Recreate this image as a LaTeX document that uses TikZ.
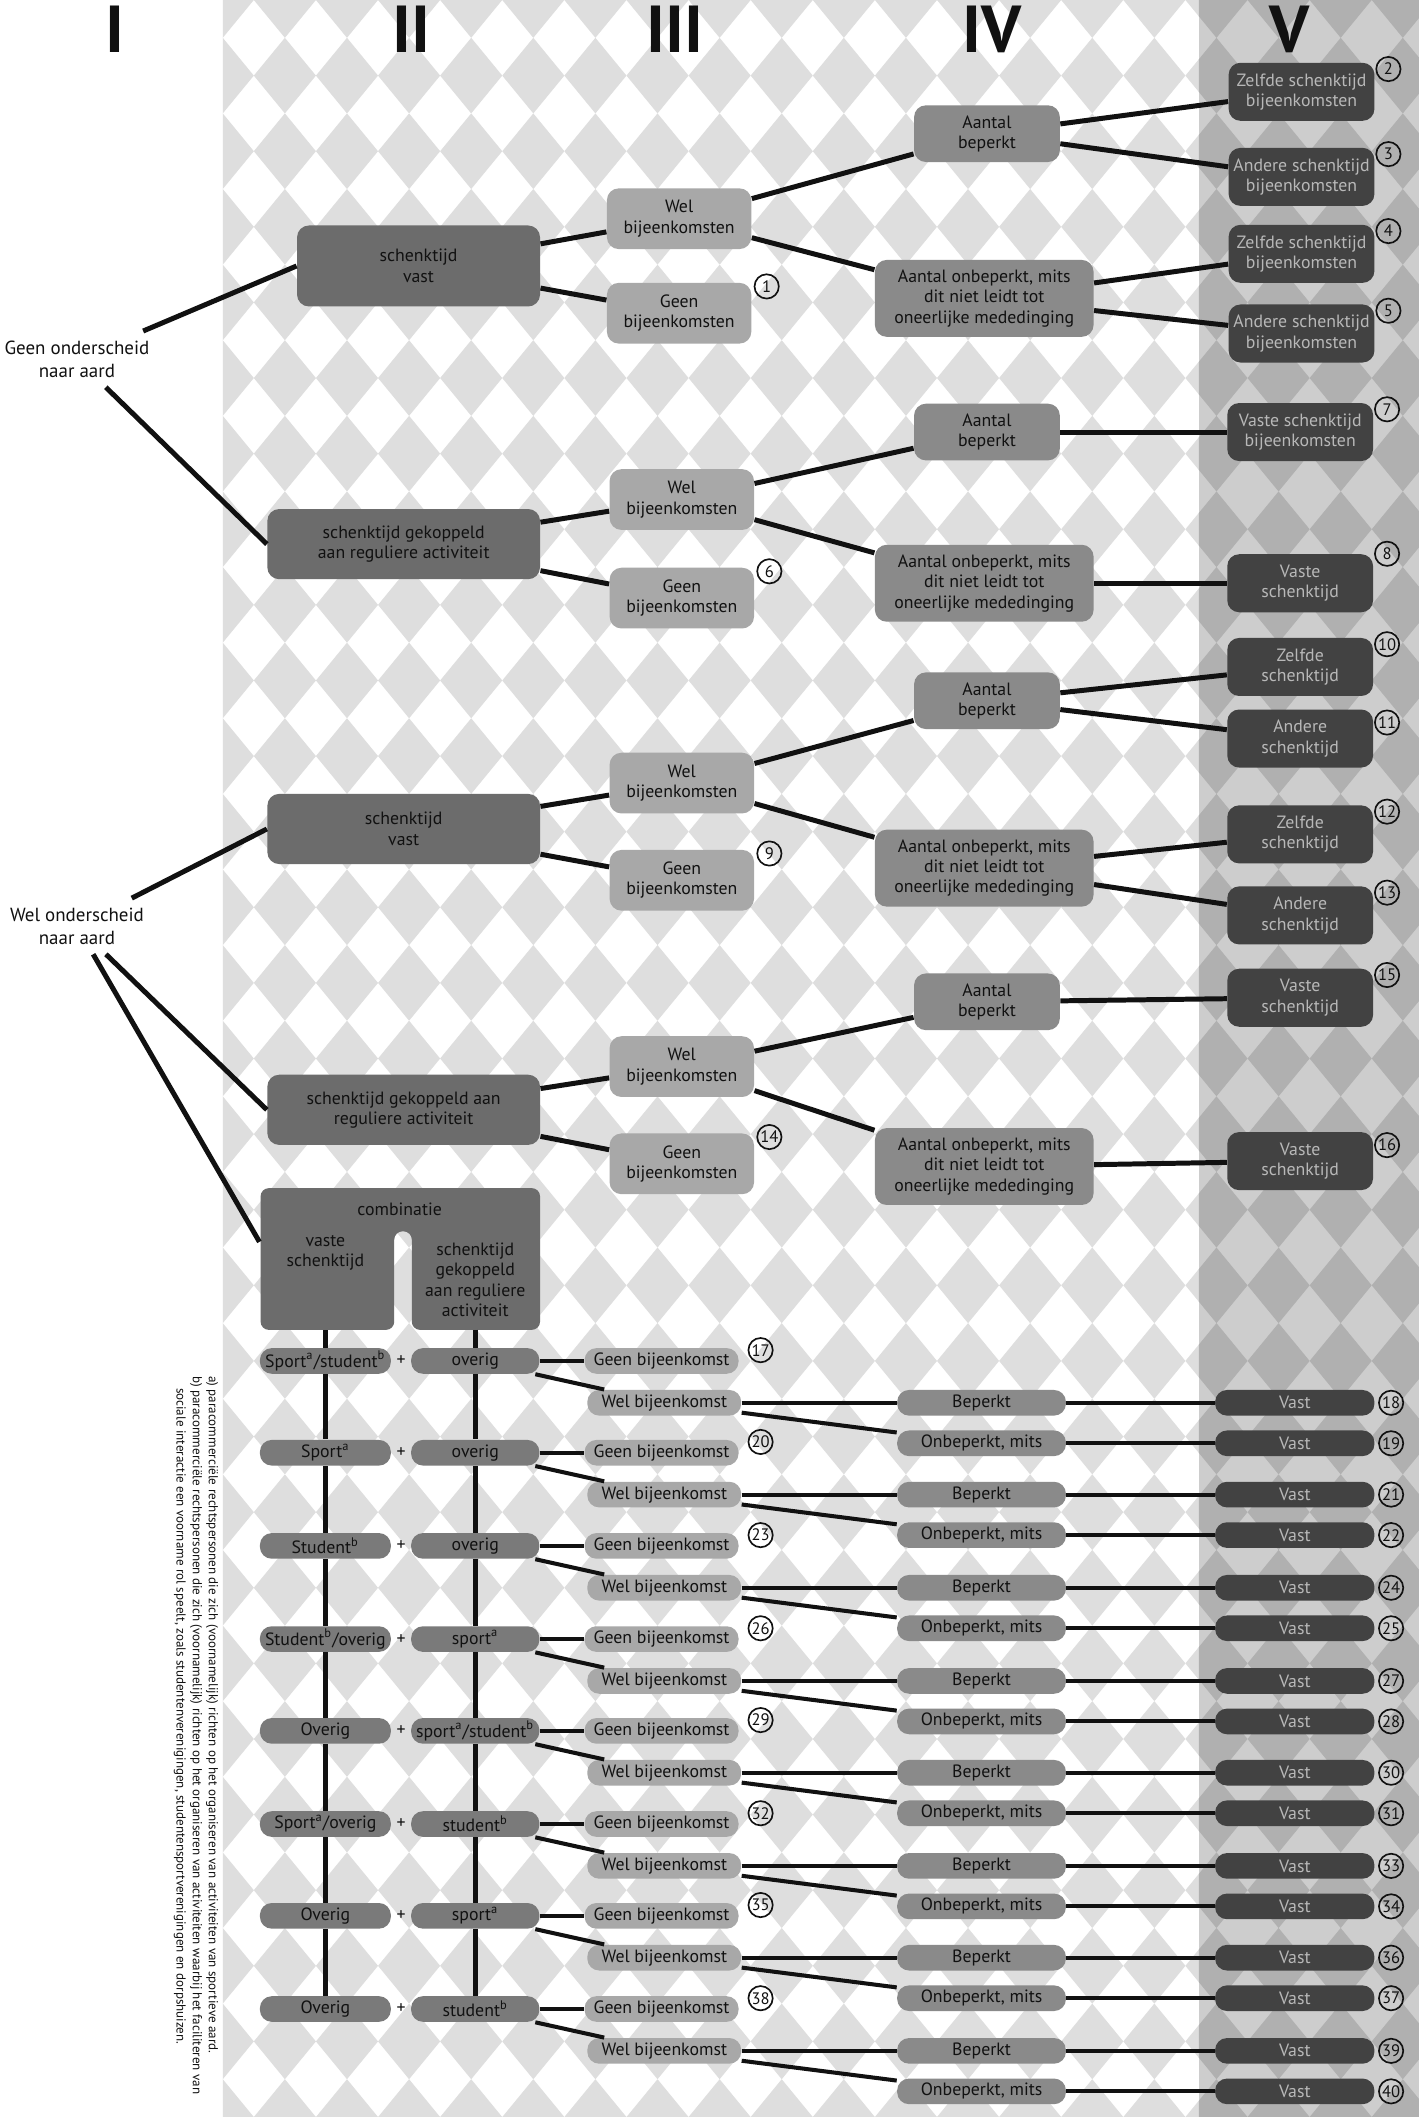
\documentclass[tikz,border=0pt]{standalone}
\usepackage{fontspec}
\setmainfont{PT Sans}
\usetikzlibrary{calc}
\definecolor{Paper}{HTML}{FFFFFF}
\definecolor{Harle}{HTML}{DEDEDE}
\definecolor{Band}{HTML}{CDCDCD}
\definecolor{BandHarle}{HTML}{B0B0B0}
\definecolor{TwoFill}{HTML}{6C6C6C}
\definecolor{TwoPill}{HTML}{7A7A7A}
\definecolor{ThreeFill}{HTML}{A8A8A8}
\definecolor{FourFill}{HTML}{8A8A8A}
\definecolor{FiveFill}{HTML}{424242}
\definecolor{FiveInk}{HTML}{B8B8B8}
\definecolor{Ink}{HTML}{111111}
\tikzset{box/.style={rectangle,rounded corners=5pt,align=center,text=Ink,inner sep=2pt,font=\fontsize{7.5}{8.6}\selectfont},twobox/.style={box,fill=TwoFill,minimum width=4.04cm,minimum height=1.04cm},threebox/.style={box,fill=ThreeFill,minimum width=2.14cm,minimum height=0.9cm},fourbox/.style={box,fill=FourFill,minimum width=2.16cm,minimum height=0.84cm},fourwide/.style={fourbox,minimum width=3.24cm,minimum height=1.14cm},fivebox/.style={box,fill=FiveFill,text=FiveInk,minimum width=2.16cm,minimum height=0.86cm},pill/.style={rectangle,rounded corners=5pt,align=center,inner xsep=1pt,inner ysep=0pt,minimum height=0.38cm,text=Ink,font=\fontsize{7.5}{8.6}\selectfont},twopill/.style={pill,fill=TwoPill,minimum width=1.94cm},threepill/.style={pill,fill=ThreeFill,minimum width=2.28cm},fourpill/.style={pill,fill=FourFill,minimum width=2.5cm},fivepill/.style={pill,fill=FiveFill,text=FiveInk,minimum width=2.36cm},num/.style={circle,draw=Ink,line width=0.7pt,inner sep=0pt,minimum size=0.36cm,text=Ink,font=\fontsize{7}{7}\selectfont},lbl/.style={align=center,text=Ink,inner sep=4pt,font=\fontsize{8}{9.5}\selectfont},roman/.style={text=Ink,font=\fontsize{28}{28}\selectfont\bfseries},conn/.style={draw=Ink,line width=2.1pt},thinconn/.style={draw=Ink,line width=1.7pt}}

\begin{document}
\begin{tikzpicture}[x=0.02cm,y=-0.02cm]
\useasboundingbox (0,0) rectangle (1051,1568);
\fill[Paper] (0,0) rectangle (1051,1568);
% harlequin background
\begin{scope}
\clip (165,0) rectangle (888,1568);
\foreach \i in {0,...,16} \foreach \j in {0,...,28} {\fill[Harle] ({165+46*\i},{56*\j}) ++(-23,0) -- ++(23,-28) -- ++(23,28) -- ++(-23,28) -- cycle;}
\end{scope}
\begin{scope}
\clip (888,0) rectangle (1051,1568);
\fill[Band] (888,0) rectangle (1051,1568);
\foreach \i in {15,...,20} \foreach \j in {0,...,28} {\fill[BandHarle] ({165+46*\i},{56*\j}) ++(-23,0) -- ++(23,-28) -- ++(23,28) -- ++(-23,28) -- cycle;}
\end{scope}
% column heads
\node[roman] (hI) at (85,22) {I};\node[roman] (hII) at (305,22) {II};\node[roman] (hIII) at (500,22) {III};\node[roman] (hIV) at (735,22) {IV};\node[roman] (hV) at (955,22) {V};
% geen onderscheid naar aard
\node[lbl] (GeenAard) at (57,266) {Geen onderscheid\\naar aard};
\node[twobox,minimum width=3.6cm,minimum height=1.2cm] (VastA) at (310,197) {schenktijd\\vast};
\node[threebox] (WelA) at (503,162) {Wel\\bijeenkomsten};\node[threebox] (GeenA) at (503,232) {Geen\\bijeenkomsten};
\node[fourbox] (BepA) at (731,99) {Aantal\\beperkt};\node[fourwide] (OnbA) at (729,221) {Aantal onbeperkt, mits\\dit niet leidt tot\\oneerlijke mededinging};
\node[fivebox] (Z2) at (964,68) {Zelfde schenktijd\\bijeenkomsten};\node[fivebox] (A3) at (964,131) {Andere schenktijd\\bijeenkomsten};
\node[fivebox] (Z4) at (964,188) {Zelfde schenktijd\\bijeenkomsten};\node[fivebox] (A5) at (964,247) {Andere schenktijd\\bijeenkomsten};
\node[twobox] (KopB) at (299,403) {schenktijd gekoppeld\\aan reguliere activiteit};
\node[threebox] (WelB) at (505,370) {Wel\\bijeenkomsten};\node[threebox] (GeenB) at (505,443) {Geen\\bijeenkomsten};
\node[fourbox] (BepB) at (731,320) {Aantal\\beperkt};\node[fourwide] (OnbB) at (729,432) {Aantal onbeperkt, mits\\dit niet leidt tot\\oneerlijke mededinging};
\node[fivebox] (V7) at (963,320) {Vaste schenktijd\\bijeenkomsten};\node[fivebox] (V8) at (963,432) {Vaste\\schenktijd};
% wel onderscheid naar aard
\node[lbl] (WelAard) at (57,686) {Wel onderscheid\\naar aard};
\node[twobox] (VastC) at (299,614) {schenktijd\\vast};
\node[threebox] (WelC) at (505,580) {Wel\\bijeenkomsten};\node[threebox] (GeenC) at (505,652) {Geen\\bijeenkomsten};
\node[fourbox] (BepC) at (731,519) {Aantal\\beperkt};\node[fourwide] (OnbC) at (729,643) {Aantal onbeperkt, mits\\dit niet leidt tot\\oneerlijke mededinging};
\node[fivebox] (Z10) at (963,494) {Zelfde\\schenktijd};\node[fivebox] (A11) at (963,547) {Andere\\schenktijd};
\node[fivebox] (Z12) at (963,618) {Zelfde\\schenktijd};\node[fivebox] (A13) at (963,678) {Andere\\schenktijd};
\node[twobox] (KopD) at (299,822) {schenktijd gekoppeld aan\\reguliere activiteit};
\node[threebox] (WelD) at (505,790) {Wel\\bijeenkomsten};\node[threebox] (GeenD) at (505,862) {Geen\\bijeenkomsten};
\node[fourbox] (BepD) at (731,742) {Aantal\\beperkt};\node[fourwide] (OnbD) at (729,864) {Aantal onbeperkt, mits\\dit niet leidt tot\\oneerlijke mededinging};
\node[fivebox] (V15) at (963,739) {Vaste\\schenktijd};\node[fivebox] (V16) at (963,860) {Vaste\\schenktijd};
% numbers
\node[num] at ($(GeenA.north east)+(11,3)$) {1};\node[num] at ($(GeenB.north east)+(11,3)$) {6};\node[num] at ($(GeenC.north east)+(11,3)$) {9};\node[num] at ($(GeenD.north east)+(11,3)$) {14};
\node[num] at ($(Z2.north east)+(10,5)$) {2};\node[num] at ($(A3.north east)+(10,5)$) {3};\node[num] at ($(Z4.north east)+(10,5)$) {4};\node[num] at ($(A5.north east)+(10,5)$) {5};
\node[num] at ($(V7.north east)+(10,5)$) {7};\node[num] at ($(V8.north east)+(10,0)$) {8};\node[num] at ($(Z10.north east)+(10,5)$) {10};\node[num] at ($(A11.north east)+(10,10)$) {11};
\node[num] at ($(Z12.north east)+(10,5)$) {12};\node[num] at ($(A13.north east)+(10,5)$) {13};\node[num] at ($(V15.north east)+(10,5)$) {15};\node[num] at ($(V16.north east)+(10,10)$) {16};
% combinatie
\fill[TwoFill,rounded corners=3.5pt] (193,880) -- (400,880) -- (400,985) -- (305,985) -- (305,912) -- (292,912) -- (292,985) -- (193,985) -- cycle;
\node[box] (Combi) at (296,896) {combinatie};
\node[box,minimum width=1.94cm,minimum height=1.46cm,rounded corners=0pt] (combL) at (241,948) {vaste\\schenktijd\\[16pt]};
\node[box,minimum width=1.9cm,minimum height=1.46cm,rounded corners=0pt] (combR) at (352,948) {schenktijd\\gekoppeld\\aan reguliere\\activiteit};
\foreach \y/\lt/\rt/\g/\p/\q [count=\k] in {1008/{Sport\textsuperscript{a}/student\textsuperscript{b}}/overig/17/18/19,1076/Sport\textsuperscript{a}/overig/20/21/22,1145/Student\textsuperscript{b}/overig/23/24/25,1214/{Student\textsuperscript{b}/overig}/sport\textsuperscript{a}/26/27/28,1282/Overig/{sport\textsuperscript{a}/student\textsuperscript{b}}/29/30/31,1351/{Sport\textsuperscript{a}/overig}/student\textsuperscript{b}/32/33/34,1419/Overig/sport\textsuperscript{a}/35/36/37,1488/Overig/student\textsuperscript{b}/38/39/40}{
\node[twopill] (L\k) at (241,\y) {\lt};\node[text=Ink,font=\fontsize{7.5}{8}\selectfont] (plus\k) at (297,\y) {+};\node[twopill,minimum width=1.9cm] (R\k) at (352,\y) {\rt};
\node[threepill] (G\k) at (490,\y) {Geen bijeenkomst};\node[threepill] (W\k) at (492,\y+31) {Wel bijeenkomst};
\node[fourpill] (B\k) at (727,\y+31) {Beperkt};\node[fourpill] (O\k) at (727,\y+61) {Onbeperkt, mits};
\node[fivepill] (VB\k) at (959,\y+31) {Vast};\node[fivepill] (VO\k) at (959,\y+61) {Vast};
\node[num] at ($(G\k.east)+(16,-8)$) {\g};\node[num] at ($(VB\k.east)+(12,0)$) {\p};\node[num] at ($(VO\k.east)+(12,0)$) {\q};
\draw[thinconn] (R\k) -- (G\k);\draw[thinconn] (R\k) -- (W\k);\draw[thinconn] (W\k) -- (B\k);\draw[thinconn] (W\k) -- (O\k);\draw[thinconn] (B\k) -- (VB\k);\draw[thinconn] (O\k) -- (VO\k);
}
\draw[conn] (combL) -- (L1) -- (L2) -- (L3) -- (L4) -- (L5) -- (L6) -- (L7) -- (L8);
\draw[conn] (combR) -- (R1) -- (R2) -- (R3) -- (R4) -- (R5) -- (R6) -- (R7) -- (R8);
% footnotes
\node[rotate=-90,anchor=north west,align=left,text=Ink,inner sep=0pt,font=\fontsize{5.5}{6.8}\selectfont] (Notes) at (162,1019) {a) paracommerciële rechtspersonen die zich (voornamelijk) richten op het organiseren van activiteiten van sportieve aard.\\b) paracommerciële rechtspersonen die zich (voornamelijk) richten op het organiseren van activiteiten waarbij het faciliteren van\\\hspace*{0.9em}sociale interactie een voorname rol speelt, zoals studentenverenigingen, studentensportverenigingen en dorpshuizen.};
% connectors
\draw[conn] (GeenAard) -- (VastA.west);\draw[conn] (GeenAard) -- (KopB.west);
\draw[conn] (VastA) -- (WelA);\draw[conn] (VastA) -- (GeenA);\draw[conn] (WelA) -- (BepA);\draw[conn] (WelA) -- (OnbA);
\draw[conn] (BepA) -- (Z2);\draw[conn] (BepA) -- (A3);\draw[conn] (OnbA) -- (Z4);\draw[conn] (OnbA) -- (A5);
\draw[conn] (KopB) -- (WelB);\draw[conn] (KopB) -- (GeenB);\draw[conn] (WelB) -- (BepB);\draw[conn] (WelB) -- (OnbB);\draw[conn] (BepB) -- (V7);\draw[conn] (OnbB) -- (V8);
\draw[conn] (WelAard) -- (VastC.west);\draw[conn] (WelAard) -- (KopD.west);\draw[conn] (WelAard) -- (combL.150);
\draw[conn] (VastC) -- (WelC);\draw[conn] (VastC) -- (GeenC);\draw[conn] (WelC) -- (BepC);\draw[conn] (WelC) -- (OnbC);
\draw[conn] (BepC) -- (Z10);\draw[conn] (BepC) -- (A11);\draw[conn] (OnbC) -- (Z12);\draw[conn] (OnbC) -- (A13);
\draw[conn] (KopD) -- (WelD);\draw[conn] (KopD) -- (GeenD);\draw[conn] (WelD) -- (BepD);\draw[conn] (WelD) -- (OnbD);\draw[conn] (BepD) -- (V15);\draw[conn] (OnbD) -- (V16);
\end{tikzpicture}
\end{document}
